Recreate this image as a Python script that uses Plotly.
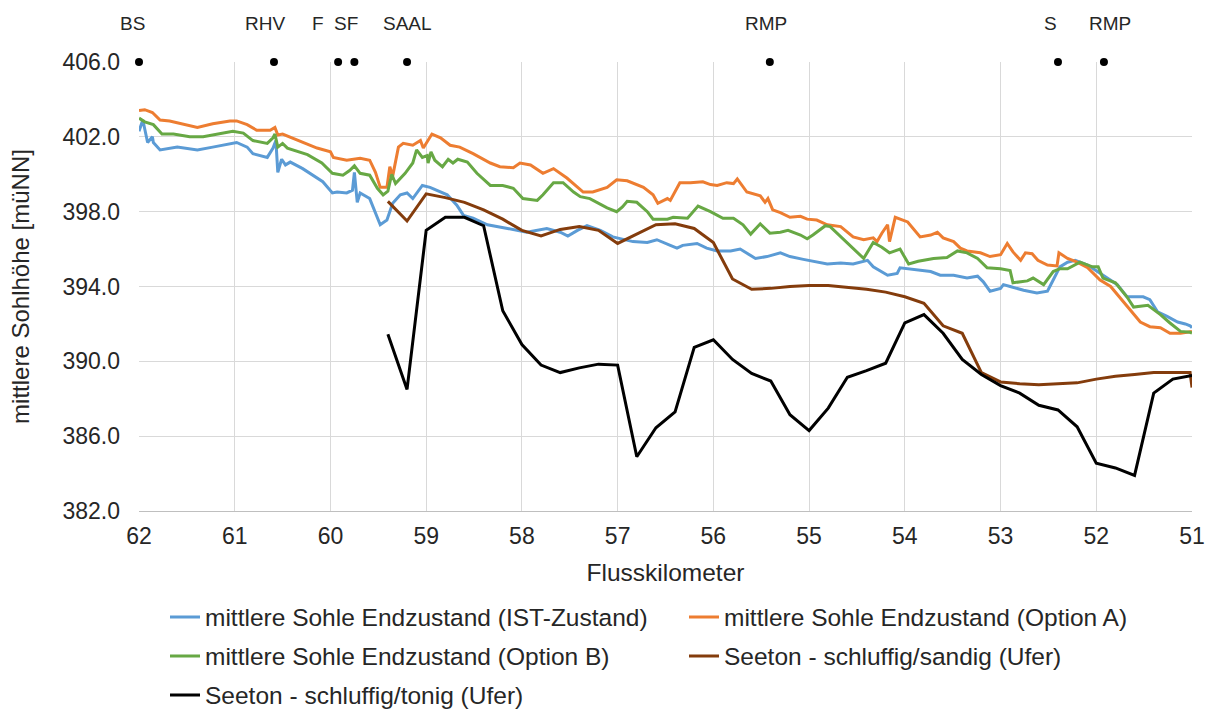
import plotly.graph_objects as go

# ---------------- data ----------------
ist_km = [62.00, 61.96, 61.91, 61.86, 61.85, 61.78, 61.60, 61.39, 61.23, 60.98, 60.87, 60.81, 60.66, 60.60,
          60.57, 60.55, 60.51, 60.47, 60.42, 60.29, 60.08, 59.98, 59.93, 59.83, 59.77, 59.75, 59.72, 59.69,
          59.59, 59.48, 59.41, 59.35, 59.27, 59.20, 59.14, 59.04, 58.96, 58.85, 58.78, 58.68, 58.61, 58.51,
          58.36, 58.15, 57.95, 57.74, 57.60, 57.52, 57.42, 57.32, 57.18, 57.05, 56.84, 56.69, 56.59, 56.45,
          56.38, 56.32, 56.17, 56.07, 55.96, 55.82, 55.72, 55.56, 55.44, 55.30, 55.20, 55.06, 54.81, 54.67,
          54.54, 54.39, 54.33, 54.18, 54.08, 54.05, 53.91, 53.73, 53.63, 53.49, 53.35, 53.24, 53.18, 53.11,
          53.00, 52.97, 52.90, 52.76, 52.62, 52.51, 52.45, 52.38, 52.30, 52.22, 52.09, 51.99, 51.89, 51.78,
          51.68, 51.51, 51.44, 51.36, 51.26, 51.15, 51.07, 51.02, 51.00]
ist_val = [402.3, 402.9, 401.7, 402.0, 401.7, 401.3, 401.45, 401.3, 401.45, 401.7, 401.45, 401.1, 400.9, 401.4,
           401.8, 400.1, 400.8, 400.5, 400.65, 400.3, 399.6, 399.0, 399.05, 399.0, 399.15, 400.1, 398.5, 399.0,
           398.7, 397.3, 397.55, 398.45, 398.9, 399.0, 398.7, 399.4, 399.3, 399.05, 398.9, 398.35, 397.8, 397.65,
           397.3, 397.1, 396.9, 397.1, 396.9, 396.7, 397.0, 397.25, 397.0, 396.65, 396.4, 396.35, 396.5, 396.2,
           396.05, 396.2, 396.3, 396.05, 395.9, 395.9, 396.0, 395.5, 395.6, 395.8, 395.6, 395.45, 395.2, 395.25,
           395.2, 395.4, 395.05, 394.6, 394.7, 395.0, 394.9, 394.8, 394.6, 394.6, 394.45, 394.55, 394.25, 393.75,
           393.9, 394.1, 394.0, 393.8, 393.65, 393.75, 394.35, 395.05, 395.3, 395.4, 395.15, 394.8, 394.45, 394.1,
           393.45, 393.45, 393.3, 392.65, 392.4, 392.1, 392.0, 391.9, 391.8]

optA_km = [62.00, 61.94, 61.86, 61.78, 61.68, 61.39, 61.23, 61.05, 60.98, 60.87, 60.77, 60.63, 60.58, 60.55,
           60.50, 60.29, 60.14, 60.00, 59.97, 59.83, 59.69, 59.59, 59.53, 59.48, 59.41, 59.38, 59.35, 59.29,
           59.24, 59.14, 59.06, 59.03, 58.94, 58.85, 58.75, 58.65, 58.51, 58.33, 58.23, 58.09, 58.02, 57.91,
           57.78, 57.67, 57.53, 57.36, 57.26, 57.11, 57.01, 56.90, 56.73, 56.63, 56.58, 56.48, 56.45, 56.35,
           56.24, 56.11, 56.03, 55.96, 55.86, 55.79, 55.75, 55.65, 55.51, 55.46, 55.43, 55.38, 55.30, 55.20,
           55.09, 55.02, 54.92, 54.81, 54.67, 54.54, 54.43, 54.33, 54.29, 54.24, 54.18, 54.16, 54.10, 53.97,
           53.91, 53.84, 53.73, 53.66, 53.60, 53.49, 53.42, 53.35, 53.21, 53.11, 53.00, 52.93, 52.87, 52.79,
           52.74, 52.67, 52.61, 52.51, 52.41, 52.39, 52.30, 52.20, 52.09, 51.96, 51.85, 51.75, 51.64, 51.54,
           51.44, 51.33, 51.23, 51.12, 51.00]
optA_val = [403.4, 403.45, 403.3, 402.9, 402.85, 402.5, 402.7, 402.85, 402.85, 402.65, 402.35, 402.35, 402.5, 402.1,
            402.15, 401.7, 401.4, 401.2, 400.9, 400.75, 400.85, 400.75, 400.1, 399.3, 399.3, 400.4, 399.9, 401.45,
            401.65, 401.55, 401.8, 401.4, 402.15, 401.95, 401.55, 401.45, 401.1, 400.6, 400.4, 400.35, 400.6, 400.5,
            400.05, 400.3, 399.8, 399.05, 399.05, 399.3, 399.7, 399.65, 399.3, 398.9, 398.45, 398.7, 398.6, 399.55,
            399.55, 399.6, 399.45, 399.4, 399.55, 399.5, 399.75, 399.05, 398.85, 398.5, 398.7, 398.1, 397.95, 397.7,
            397.75, 397.6, 397.55, 397.3, 397.2, 396.65, 396.5, 396.6, 396.4, 396.85, 397.3, 396.4, 397.7, 397.45,
            397.1, 396.65, 396.75, 396.9, 396.6, 396.4, 396.05, 395.9, 395.8, 395.6, 395.7, 396.3, 395.85, 395.4,
            395.8, 395.75, 395.4, 395.15, 395.1, 395.8, 395.5, 395.3, 395.0, 394.35, 394.0, 393.4, 392.75, 392.1,
            391.85, 391.8, 391.5, 391.5, 391.6]

optB_km = [62.00, 61.94, 61.85, 61.76, 61.64, 61.47, 61.33, 61.18, 61.02, 60.91, 60.81, 60.66, 60.60, 60.58,
           60.55, 60.50, 60.45, 60.24, 60.09, 59.98, 59.87, 59.80, 59.75, 59.69, 59.59, 59.51, 59.45, 59.40,
           59.36, 59.32, 59.22, 59.14, 59.10, 59.04, 58.99, 58.98, 58.95, 58.91, 58.83, 58.77, 58.72, 58.67,
           58.57, 58.47, 58.33, 58.20, 58.09, 57.99, 57.84, 57.78, 57.67, 57.57, 57.46, 57.39, 57.29, 57.11,
           57.01, 56.95, 56.90, 56.80, 56.69, 56.63, 56.48, 56.42, 56.27, 56.16, 56.03, 55.90, 55.79, 55.69,
           55.61, 55.51, 55.41, 55.30, 55.22, 55.09, 55.02, 54.96, 54.83, 54.78, 54.71, 54.57, 54.43, 54.33,
           54.24, 54.16, 54.05, 53.96, 53.86, 53.70, 53.56, 53.45, 53.35, 53.24, 53.14, 53.00, 52.90, 52.87,
           52.72, 52.66, 52.55, 52.45, 52.38, 52.30, 52.17, 52.04, 51.98, 51.93, 51.80, 51.68, 51.61, 51.46,
           51.33, 51.23, 51.12, 51.02, 51.00]
optB_val = [403.0, 402.8, 402.65, 402.15, 402.15, 402.0, 402.0, 402.15, 402.3, 402.2, 401.8, 401.65, 401.95, 402.15,
            401.45, 401.65, 401.4, 401.05, 400.6, 400.05, 399.95, 400.2, 400.45, 400.05, 399.95, 399.25, 398.9, 399.1,
            400.0, 399.5, 400.05, 400.6, 401.3, 400.9, 401.0, 400.6, 401.2, 400.75, 400.4, 400.8, 400.6, 400.8,
            400.65, 400.05, 399.4, 399.4, 399.25, 398.7, 398.6, 398.9, 399.55, 399.55, 399.05, 398.8, 398.7, 398.2,
            398.0, 398.25, 398.55, 398.5, 398.0, 397.6, 397.6, 397.7, 397.65, 398.3, 398.0, 397.65, 397.65, 397.3,
            396.8, 397.35, 396.85, 396.9, 397.0, 396.75, 396.55, 396.75, 397.25, 397.2, 396.85, 396.2, 395.5, 396.35,
            396.1, 395.8, 396.0, 395.2, 395.35, 395.5, 395.55, 395.9, 395.8, 395.5, 395.0, 394.95, 394.85, 394.2,
            394.3, 394.45, 394.1, 394.8, 394.95, 394.95, 395.3, 395.05, 395.05, 394.45, 394.2, 393.45, 392.9, 393.0,
            392.5, 392.05, 391.6, 391.55, 391.5]

sandig_km = [59.4, 59.2, 59.0, 58.8, 58.6, 58.4, 58.2, 58.0, 57.8, 57.6, 57.4, 57.2, 57.0, 56.8, 56.6, 56.4,
             56.2, 56.0, 55.8, 55.6, 55.4, 55.2, 55.0, 54.8, 54.6, 54.4, 54.2, 54.0, 53.8, 53.6, 53.4, 53.2,
             53.0, 52.8, 52.6, 52.4, 52.2, 52.0, 51.8, 51.6, 51.4, 51.2, 51.02, 51.0]
sandig_val = [398.55, 397.5, 398.95, 398.75, 398.5, 398.1, 397.6, 397.0, 396.7, 397.05, 397.2, 397.0, 396.3, 396.8,
              397.3, 397.35, 397.1, 396.35, 394.4, 393.85, 393.9, 394.0, 394.05, 394.05, 393.95, 393.85, 393.7,
              393.45, 393.1, 391.9, 391.5, 389.4, 388.9, 388.8, 388.75, 388.8, 388.85, 389.05, 389.2, 389.3,
              389.4, 389.4, 389.4, 388.6]

tonig_km = [59.4, 59.2, 59.0, 58.8, 58.6, 58.4, 58.2, 58.0, 57.8, 57.6, 57.4, 57.2, 57.0, 56.8, 56.6, 56.4,
            56.2, 56.0, 55.8, 55.6, 55.4, 55.2, 55.0, 54.8, 54.6, 54.4, 54.2, 54.0, 53.8, 53.6, 53.4, 53.2,
            53.0, 52.8, 52.6, 52.4, 52.2, 52.0, 51.8, 51.6, 51.4, 51.2, 51.0]
tonig_val = [391.45, 388.5, 397.0, 397.7, 397.7, 397.25, 392.7, 390.9, 389.8, 389.4, 389.65, 389.85, 389.8, 384.9,
             386.45, 387.3, 390.75, 391.15, 390.1, 389.35, 388.95, 387.15, 386.3, 387.5, 389.15, 389.5, 389.9,
             392.05, 392.5, 391.5, 390.1, 389.3, 388.7, 388.3, 387.65, 387.4, 386.5, 384.55, 384.3, 383.9, 388.3,
             389.05, 389.25]

loc_names = ["BS", "RHV", "F", "SF", "SAAL", "RMP", "S", "RMP"]
loc_km = [62.0, 60.59, 59.92, 59.75, 59.20, 55.41, 52.40, 51.92]
loc_level = [406.0] * len(loc_km)

series_names = [
    "mittlere Sohle Endzustand (IST-Zustand)",
    "mittlere Sohle Endzustand (Option A)",
    "mittlere Sohle Endzustand (Option B)",
    "Seeton - schluffig/sandig (Ufer)",
    "Seeton - schluffig/tonig (Ufer)",
]

# ---------------- styles ----------------
FONT = "Liberation Sans"
TXT = "#262626"
colors = ["#5B9BD5", "#ED7D31", "#67A844", "#843C0C", "#000000"]
legend_ids = ["legend", "legend", "legend2", "legend2", "legend3"]
label_shift = [-7, -9, -20, -8, 0, -4, -7, 6]
PLOT_TOP, PLOT_BOTTOM = 62, 511
PLOT_H = PLOT_BOTTOM - PLOT_TOP

fig = go.Figure()
data_pairs = [(ist_km, ist_val), (optA_km, optA_val), (optB_km, optB_val),
              (sandig_km, sandig_val), (tonig_km, tonig_val)]
for (xs, ys), name, col, lg in zip(data_pairs, series_names, colors, legend_ids):
    fig.add_trace(go.Scatter(x=xs, y=ys, mode="lines", name=name, legend=lg,
                             line=dict(color=col, width=3)))

fig.add_trace(go.Scatter(x=loc_km, y=loc_level, mode="markers", showlegend=False,
                         marker=dict(color="black", size=8), cliponaxis=False))

for name, km, sh in zip(loc_names, loc_km, label_shift):
    fig.add_annotation(x=km, y=(PLOT_BOTTOM - 24) / PLOT_H, xref="x", yref="paper", text=name,
                       showarrow=False, xshift=sh, yanchor="middle",
                       font=dict(family=FONT, size=19, color=TXT))

legend_common = dict(orientation="h", xanchor="left", yanchor="middle", x=26 / 1053,
                     font=dict(family=FONT, size=24.5, color=TXT), bgcolor="rgba(0,0,0,0)",
                     entrywidth=474)

fig.update_layout(
    width=1211, height=709,
    margin=dict(l=139, r=19, t=PLOT_TOP, b=709 - PLOT_BOTTOM, autoexpand=False),
    paper_bgcolor="white", plot_bgcolor="white",
    font=dict(family=FONT, size=23, color=TXT),
    legend=dict(y=(PLOT_BOTTOM - 617) / PLOT_H, **legend_common),
    legend2=dict(y=(PLOT_BOTTOM - 656) / PLOT_H, **legend_common),
    legend3=dict(y=(PLOT_BOTTOM - 695) / PLOT_H, **legend_common),
    xaxis=dict(range=[62, 51], dtick=1, tick0=51, showgrid=True, gridcolor="#D9D9D9", gridwidth=1,
               zeroline=False, showline=True, linecolor="#BFBFBF", linewidth=1, ticks="",
               ticklabelstandoff=4, automargin=False,
               tickfont=dict(family=FONT, size=23, color=TXT),
               title=dict(text="Flusskilometer", standoff=16, font=dict(family=FONT, size=24.5, color=TXT))),
    yaxis=dict(range=[382, 406], dtick=4, tick0=382, tickformat=".1f", showgrid=True,
               gridcolor="#D9D9D9", gridwidth=1, zeroline=False, showline=False, ticks="",
               ticklabelstandoff=18, automargin=False,
               tickfont=dict(family=FONT, size=23, color=TXT),
               title=dict(text="mittlere Sohlhöhe [müNN]", standoff=26,
                          font=dict(family=FONT, size=24, color=TXT))),
)

fig.write_html("out.html")
